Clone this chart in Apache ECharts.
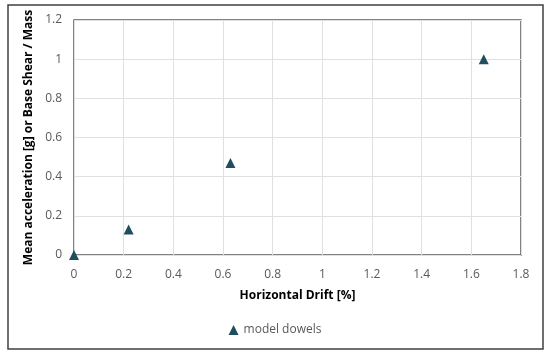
<!DOCTYPE html>
<html><head><meta charset="utf-8">
<script src="https://cdn.jsdelivr.net/npm/echarts@6/dist/echarts.min.js"></script>
<style>html,body{margin:0;padding:0;background:#fff}#c{width:550px;height:358px}</style>
</head><body><div id="c"></div>
<script>
const seriesName = 'model dowels';
const driftValues = [0, 0.22, 0.63, 1.65];
const accelValues = [0, 0.13, 0.47, 1.0];
const xTicks = [0, 0.2, 0.4, 0.6, 0.8, 1, 1.2, 1.4, 1.6, 1.8];
const yTicks = [0, 0.2, 0.4, 0.6, 0.8, 1, 1.2];

const chart = echarts.init(document.getElementById('c'), null, {renderer: 'canvas'});
const font = 'Open Sans';
chart.setOption({
  animation: false,
  graphic: [{type: 'rect', shape: {x: 8, y: 5, width: 535, height: 344},
    style: {fill: 'none', stroke: '#404040', lineWidth: 1.5}, z: -1}],
  grid: {left: 74, top: 20, right: 29, bottom: 103, show: true, borderColor: '#595959', borderWidth: 1.5},
  xAxis: {
    type: 'value', min: 0, max: 1.8, interval: 0.2,
    name: 'Horizontal Drift [%]', nameLocation: 'middle', nameGap: 35,
    nameTextStyle: {fontFamily: font, fontWeight: 'bold', fontSize: 12, color: '#000'},
    axisLine: {show: false}, axisTick: {show: false},
    axisLabel: {fontFamily: font, fontSize: 12, color: '#595959', margin: 14,
      formatter: v => String(parseFloat(v.toFixed(1)))},
    splitLine: {lineStyle: {color: '#e0e0e0', width: 1}}
  },
  yAxis: {
    type: 'value', min: 0, max: 1.2, interval: 0.2,
    name: 'Mean acceleration [g] or Base Shear / Mass', nameLocation: 'middle', nameGap: 31,
    nameTextStyle: {fontFamily: font, fontWeight: 'bold', fontSize: 12, color: '#000'},
    axisLine: {show: false}, axisTick: {show: false},
    axisLabel: {fontFamily: font, fontSize: 12, color: '#595959', margin: 12,
      formatter: v => String(parseFloat(v.toFixed(1)))},
    splitLine: {lineStyle: {color: '#e0e0e0', width: 1}}
  },
  legend: {
    bottom: 17, left: 'center', itemWidth: 10, itemHeight: 10, itemGap: 4,
    textStyle: {fontFamily: font, fontSize: 12, color: '#595959'},
    data: [{name: seriesName, icon: 'triangle'}]
  },
  series: [{
    name: seriesName, type: 'scatter', symbol: 'triangle', symbolSize: 10,
    itemStyle: {color: '#1f4e5f', opacity: 1},
    data: driftValues.map((x, i) => [x, accelValues[i]])
  }]
});
</script></body></html>
